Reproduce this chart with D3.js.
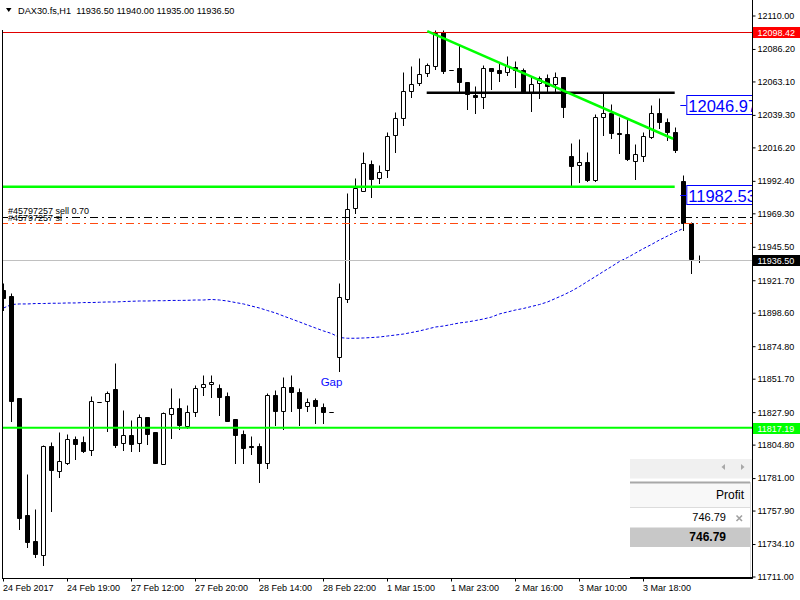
<!DOCTYPE html>
<html>
<head>
<meta charset="utf-8">
<script src="https://cdn.jsdelivr.net/npm/d3@7"></script>
<style>
  body { margin: 0; background: #fff; }
  svg text { font-family: "Liberation Sans", Arial, sans-serif; }
</style>
</head>
<body>
<div id="content"></div>
<script>
// ---- data ----
var symbol = "DAX30.fs,H1";

var dateLabels = ["24 Feb 2017", "24 Feb 19:00", "27 Feb 12:00", "27 Feb 20:00",
  "28 Feb 14:00", "28 Feb 22:00", "1 Mar 15:00", "1 Mar 23:00", "2 Mar 16:00",
  "3 Mar 10:00", "3 Mar 18:00"];
var dateTickBars = [0, 8, 16, 24, 32, 40, 48, 56, 64, 72, 80];

var priceTicks = [12110.00, 12086.20, 12063.10, 12039.30, 12016.20, 11992.40,
  11969.30, 11945.50, 11921.70, 11898.60, 11874.80, 11851.70, 11827.90,
  11804.80, 11781.00, 11757.90, 11734.10, 11711.00];

var opens = [11915.1, 11910.9, 11838.3, 11755.1, 11736.6, 11726.9, 11804.2, 11786.6, 11792.3, 11808.9,
  11806.8, 11801.1, 11835.3, 11836.0, 11844.7, 11806.1, 11812.0, 11806.5, 11824.8, 11814.1,
  11791.2, 11826.7, 11831.2, 11818.6, 11828.6, 11845.9, 11848.1, 11845.4, 11839.7, 11823.2,
  11812.7, 11804.5, 11804.2, 11792.3, 11840.4, 11829.3, 11845.9, 11842.8, 11832.6, 11836.7,
  11832.1, 11828.1, 11867.3, 11908.5, 11973.2, 11985.8, 12004.7, 11994.6, 12000.5, 12025.2,
  12037.2, 12056.4, 12062.1, 12069.2, 12074.4, 12098.6, 12071.6, 12072.8, 12062.9, 12053.8,
  12052.6, 12072.8, 12071.6, 12070.4, 12073.9, 12071.6, 12056.2, 12062.1, 12065.7, 12061.4,
  12066.4, 12010.4, 12003.8, 12006.2, 11993.4, 12037.9, 12040.8, 12026.8, 12026.1, 12007.1,
  12010.4, 12024.2, 12040.8, 12034.8, 12027.7, 11992.7, 11963.0, 11936.5];

var highs = [11920.1, 11912.8, 11838.3, 11784.3, 11759.4, 11805.1, 11807.0, 11814.1, 11812.7, 11811.5,
  11811.3, 11839.7, 11835.3, 11843.3, 11863.0, 11829.8, 11822.7, 11826.9, 11824.8, 11814.1,
  11828.1, 11845.4, 11838.3, 11833.3, 11847.6, 11854.7, 11854.7, 11848.3, 11842.6, 11823.4,
  11815.6, 11811.3, 11806.5, 11841.7, 11844.0, 11853.0, 11854.7, 11845.2, 11838.5, 11838.1,
  11834.5, 11828.1, 11919.9, 11983.9, 11994.6, 12013.1, 12007.6, 12004.0, 12027.5, 12041.7,
  12070.2, 12074.7, 12080.1, 12076.4, 12100.0, 12100.0, 12071.6, 12089.4, 12063.1, 12060.2,
  12075.2, 12073.0, 12076.8, 12081.6, 12078.2, 12072.8, 12066.8, 12067.3, 12068.8, 12070.0,
  12066.4, 12019.9, 12022.3, 12013.5, 12040.3, 12055.0, 12047.4, 12038.4, 12036.5, 12018.8,
  12027.7, 12046.7, 12051.5, 12037.2, 12031.3, 11996.9, 11963.7, 11940.0];

var lows = [11900.9, 11822.2, 11745.4, 11732.6, 11725.4, 11719.3, 11758.2, 11782.3, 11791.4, 11795.1,
  11799.9, 11798.0, 11835.3, 11815.1, 11803.7, 11801.3, 11800.6, 11800.6, 11805.8, 11792.3,
  11791.2, 11810.1, 11816.5, 11817.2, 11825.7, 11840.4, 11839.2, 11826.2, 11822.0, 11792.3,
  11792.3, 11798.3, 11778.8, 11788.7, 11819.1, 11816.1, 11829.3, 11819.1, 11829.3, 11820.7,
  11820.7, 11828.1, 11857.7, 11906.8, 11970.1, 11985.8, 11981.1, 11991.4, 11995.3, 12013.1,
  12032.5, 12052.6, 12060.7, 12067.5, 12072.5, 12069.7, 12071.6, 12056.2, 12043.6, 12040.8,
  12044.8, 12058.1, 12064.0, 12068.0, 12059.7, 12055.5, 12042.6, 12051.9, 12056.2, 12056.2,
  12038.4, 11988.6, 11992.2, 11992.9, 11992.9, 12025.4, 12023.4, 12012.8, 12007.6, 11993.9,
  12006.9, 12023.0, 12030.1, 12021.8, 12013.5, 11957.8, 11927.0, 11935.0];

var closes = [11909.4, 11836.4, 11753.0, 11736.1, 11727.6, 11804.2, 11787.1, 11793.3, 11808.9, 11805.8,
  11800.6, 11836.0, 11835.3, 11841.7, 11805.1, 11811.8, 11805.8, 11824.8, 11812.9, 11792.3,
  11827.4, 11831.0, 11819.3, 11828.1, 11845.4, 11848.3, 11849.7, 11839.2, 11822.0, 11812.0,
  11803.0, 11803.8, 11792.3, 11840.4, 11829.3, 11845.9, 11842.6, 11831.4, 11835.7, 11832.6,
  11828.1, 11828.1, 11909.9, 11972.5, 11987.5, 12005.2, 11993.9, 11999.3, 12024.7, 12037.2,
  12056.7, 12061.4, 12068.8, 12074.9, 12098.1, 12070.9, 12071.6, 12063.3, 12054.5, 12052.6,
  12072.8, 12071.1, 12069.7, 12074.4, 12071.6, 12055.5, 12061.6, 12065.7, 12060.4, 12066.4,
  12045.5, 12003.5, 12006.2, 11993.4, 12038.2, 12040.8, 12027.0, 12026.3, 12008.3, 12011.6,
  12024.7, 12040.8, 12034.8, 12027.7, 12014.7, 11962.6, 11937.2, 11936.5];

// moving average (blue dotted), bars 0..85
var maValues = [11902.3, 11904.8, 11905.2, 11905.2, 11905.5, 11905.5, 11905.7, 11905.7, 11905.9, 11905.9,
  11906.2, 11906.2, 11906.4, 11906.6, 11906.6, 11906.9, 11907.1, 11907.3, 11907.3, 11907.5,
  11907.5, 11907.7, 11907.7, 11907.8, 11908.0, 11908.0, 11908.4, 11908.0, 11907.3, 11906.2,
  11905.2, 11903.7, 11902.3, 11900.5, 11898.8, 11896.6, 11894.5, 11892.4, 11890.2, 11888.1,
  11886.0, 11884.2, 11881.3, 11880.8, 11880.8, 11881.0, 11881.3, 11881.7, 11882.4, 11883.1,
  11883.8, 11884.9, 11886.0, 11887.4, 11888.8, 11889.5, 11890.6, 11891.7, 11892.4, 11893.4,
  11894.5, 11895.9, 11898.1, 11899.5, 11900.9, 11902.0, 11903.4, 11904.8, 11906.6, 11909.1,
  11911.6, 11914.4, 11917.6, 11921.2, 11924.7, 11928.3, 11931.8, 11935.4, 11938.2, 11941.4,
  11944.6, 11947.5, 11950.7, 11953.5, 11956.4, 11958.9];

// objects drawn on the chart
var redLevel = 12098.42;
var greenLevel = 11817.19;
var orderId = "#45797257";
var orderLots = 0.70;
var orderOpen = 11966.7;
var orderSL = 11962.8;
var supportBars = [-0.5, 83.9], supportPrices = [11988.6, 11988.6];
var resistBars = [52.9, 83.9], resistPrices = [12055.4, 12055.4];
var trendBars = [52.97, 83.7], trendPrices = [12099.3, 12022.7];
var arrowPrices = [12046.97, 11982.53];
var arrowBar = 84.6;
var gapBar = 41, gapPrice = 11846.5;
var profitValue = 746.79;

// ---- drawing ----
var width = 800, height = 600,
  plotRight = 752.5,
  plotBottom = 578.5;

var svg = d3
  .select("#content")
  .append("svg")
  .attr("width", width)
  .attr("height", height);

var x = d3.scaleLinear().domain([0, 87]).range([3.5, 699.5]);
var y = d3.scaleLinear().domain([11711, 12110]).range([577, 16]);

svg.append("clipPath")
  .attr("id", "plotClip")
  .append("rect")
  .attr("x", 2)
  .attr("y", 0)
  .attr("width", plotRight - 2)
  .attr("height", plotBottom);

var plot = svg.append("g").attr("clip-path", "url(#plotClip)");

function py(p) {
  return Math.round(y(p)) + 0.5;
}

// moving average
plot.append("path")
  .datum(maValues)
  .attr("fill", "none")
  .attr("stroke", "#0000e6")
  .attr("stroke-width", 1)
  .attr("stroke-dasharray", "3,2")
  .attr("d", d3.line()
    .x(function (d, i) { return x(i); })
    .y(function (d) { return y(d); }));

var bars = opens.map(function (o, i) {
  return { i: i, o: o, h: highs[i], l: lows[i], c: closes[i] };
});

var candle = plot
  .selectAll(".candle")
  .data(bars)
  .enter()
  .append("g")
  .attr("class", "candle");

candle.append("line")
  .attr("x1", function (d) { return x(d.i); })
  .attr("x2", function (d) { return x(d.i); })
  .attr("y1", function (d) { return py(d.h); })
  .attr("y2", function (d) { return py(d.l) + 0.5; })
  .attr("stroke", "#000");

candle.append("path")
  .attr("d", function (d) {
    var x0 = x(d.i) - 2, x1 = x(d.i) + 2;
    var y0 = py(Math.max(d.o, d.c)), y1 = py(Math.min(d.o, d.c));
    return "M" + x0 + "," + y0 + "H" + x1 + "V" + y1 + "H" + x0 + "Z";
  })
  .attr("fill", function (d) { return d.c > d.o ? "#fff" : "#000"; })
  .attr("stroke", "#000");

// full width lines
plot.append("line")
  .attr("x1", 0).attr("x2", plotRight)
  .attr("y1", py(closes[87])).attr("y2", py(closes[87]))
  .attr("stroke", "#c0c0c0");

plot.append("line")
  .attr("x1", 0).attr("x2", plotRight)
  .attr("y1", py(redLevel)).attr("y2", py(redLevel))
  .attr("stroke", "#e00000");

plot.append("line")
  .attr("x1", 0).attr("x2", plotRight)
  .attr("y1", y(greenLevel)).attr("y2", y(greenLevel))
  .attr("stroke", "#00ff00")
  .attr("stroke-width", 2);

// order lines (dash-dot)
plot.append("line")
  .attr("x1", 0).attr("x2", plotRight)
  .attr("y1", py(orderOpen)).attr("y2", py(orderOpen))
  .attr("stroke", "#000")
  .attr("stroke-dasharray", "8,4,2,4");

plot.append("line")
  .attr("x1", 0).attr("x2", plotRight)
  .attr("y1", py(orderSL)).attr("y2", py(orderSL))
  .attr("stroke", "#ff4a10")
  .attr("stroke-dasharray", "8,4,2,4");

plot.append("text")
  .attr("x", 8)
  .attr("y", y(orderOpen) - 3)
  .style("font-size", "9px")
  .text(orderId + " sell " + orderLots.toFixed(2));

plot.append("text")
  .attr("x", 8)
  .attr("y", y(orderSL) - 1.5)
  .style("font-size", "9px")
  .text(orderId + " sl");

// trend lines
function trend(bs, ps, color, w) {
  plot.append("line")
    .attr("x1", x(bs[0])).attr("x2", x(bs[1]))
    .attr("y1", y(ps[0])).attr("y2", y(ps[1]))
    .attr("stroke", color)
    .attr("stroke-width", w);
}
trend(supportBars, supportPrices, "#00ff00", 2.5);
trend(resistBars, resistPrices, "#000", 2.5);
trend(trendBars, trendPrices, "#00ff00", 2.5);

// right price arrows (blue boxes)
arrowPrices.forEach(function (p) {
  var ax = x(arrowBar);
  plot.append("line")
    .attr("x1", ax).attr("x2", ax + 6)
    .attr("y1", py(p)).attr("y2", py(p))
    .attr("stroke", "#0000ff");
  plot.append("rect")
    .attr("x", ax + 6.5)
    .attr("y", py(p) - 10)
    .attr("width", 90)
    .attr("height", 19)
    .attr("fill", "#fff")
    .attr("stroke", "#0000ff");
  plot.append("text")
    .attr("x", ax + 8)
    .attr("y", py(p) + 6)
    .style("font-size", "16.5px")
    .attr("fill", "#0000ff")
    .text(p.toFixed(2));
});

plot.append("text")
  .attr("x", x(gapBar))
  .attr("y", y(gapPrice))
  .attr("text-anchor", "middle")
  .style("font-size", "11.5px")
  .attr("fill", "#0a0aff")
  .text("Gap");

// ---- trade panel (bottom right) ----
var panel = svg.append("g");
panel.append("rect").attr("x", 630).attr("y", 459).attr("width", 122).attr("height", 119).attr("fill", "#fff");
panel.append("rect").attr("x", 630).attr("y", 459).attr("width", 122).attr("height", 19.5).attr("fill", "#f0f0f0");
panel.append("path").attr("d", "M725,464L721.5,467L725,470Z").attr("fill", "#a8a8a8");
panel.append("path").attr("d", "M741,464L744.5,467L741,470Z").attr("fill", "#a8a8a8");
panel.append("rect").attr("x", 630).attr("y", 483).attr("width", 120).attr("height", 24).attr("fill", "#f8f8f8");
panel.append("line").attr("x1", 630).attr("x2", 750).attr("y1", 482.5).attr("y2", 482.5).attr("stroke", "#a8a8a8").attr("stroke-width", 2);
panel.append("line").attr("x1", 630).attr("x2", 750).attr("y1", 507.5).attr("y2", 507.5).attr("stroke", "#dcdcdc");
panel.append("line").attr("x1", 750.5).attr("x2", 750.5).attr("y1", 482).attr("y2", 578).attr("stroke", "#d8d8d8");
panel.append("rect").attr("x", 630).attr("y", 527.5).attr("width", 120).attr("height", 19.5).attr("fill", "#c8c8c8");
panel.append("text").attr("x", 744).attr("y", 498.5).attr("text-anchor", "end").style("font-size", "12px").text("Profit");
panel.append("text").attr("x", 726).attr("y", 521).attr("text-anchor", "end").style("font-size", "11px").text(profitValue.toFixed(2));
panel.append("path").attr("d", "M736.5,515.5L742,521M742,515.5L736.5,521").attr("stroke", "#a0a0a0").attr("stroke-width", 1.6);
panel.append("text").attr("x", 726).attr("y", 541).attr("text-anchor", "end").style("font-size", "12px").style("font-weight", "bold").text(profitValue.toFixed(2));

// ---- frame and axes ----
svg.append("line").attr("x1", 2.5).attr("x2", 2.5).attr("y1", 30).attr("y2", plotBottom).attr("stroke", "#000");
svg.append("line").attr("x1", plotRight).attr("x2", plotRight).attr("y1", 0).attr("y2", plotBottom).attr("stroke", "#000");
svg.append("line").attr("x1", 2).attr("x2", plotRight).attr("y1", plotBottom).attr("y2", plotBottom).attr("stroke", "#000");
svg.append("line").attr("x1", 630).attr("x2", plotRight).attr("y1", 578).attr("y2", 578).attr("stroke", "#000").attr("stroke-width", 2);

var yAxis = svg.append("g")
  .attr("transform", "translate(" + plotRight + ",0)")
  .call(d3.axisRight(y)
    .tickValues(priceTicks)
    .tickSize(3)
    .tickPadding(2)
    .offset(0)
    .tickFormat(d3.format(".2f")));
yAxis.select(".domain").remove();
yAxis.selectAll("text").style("font-size", "9px").style("font-family", "Liberation Sans");

var xAxis = svg.append("g")
  .attr("transform", "translate(0," + plotBottom + ")")
  .call(d3.axisBottom(x)
    .tickValues(dateTickBars)
    .tickSize(3)
    .tickPadding(3)
    .offset(0)
    .tickFormat(function (d, i) { return dateLabels[i]; }));
xAxis.select(".domain").remove();
xAxis.selectAll("text")
  .attr("text-anchor", "start")
  .attr("x", -0.5)
  .style("font-size", "9px")
  .style("font-family", "Liberation Sans");

// price labels on the axis
function axisLabel(p, bg, fg) {
  svg.append("rect")
    .attr("x", plotRight + 0.5)
    .attr("y", Math.round(y(p)) - 5)
    .attr("width", 48)
    .attr("height", 11)
    .attr("fill", bg);
  svg.append("text")
    .attr("x", 757.5)
    .attr("y", Math.round(y(p)) + 3.5)
    .attr("fill", fg)
    .style("font-size", "9px")
    .text(p.toFixed(2));
}
axisLabel(redLevel, "#ff0000", "#fff");
axisLabel(closes[87], "#000", "#fff");
axisLabel(greenLevel, "#00ff00", "#fff");

// header text
svg.append("path").attr("d", "M6,8L11.5,8L8.75,12Z").attr("fill", "#000");
svg.append("text")
  .attr("x", 18)
  .attr("y", 13.5)
  .style("font-size", "9.2px")
  .style("white-space", "pre")
  .text(symbol + "  " + [opens[87], highs[87], lows[87], closes[87]].map(function (v) {
    return v.toFixed(2);
  }).join(" "));
</script>
</body>
</html>
